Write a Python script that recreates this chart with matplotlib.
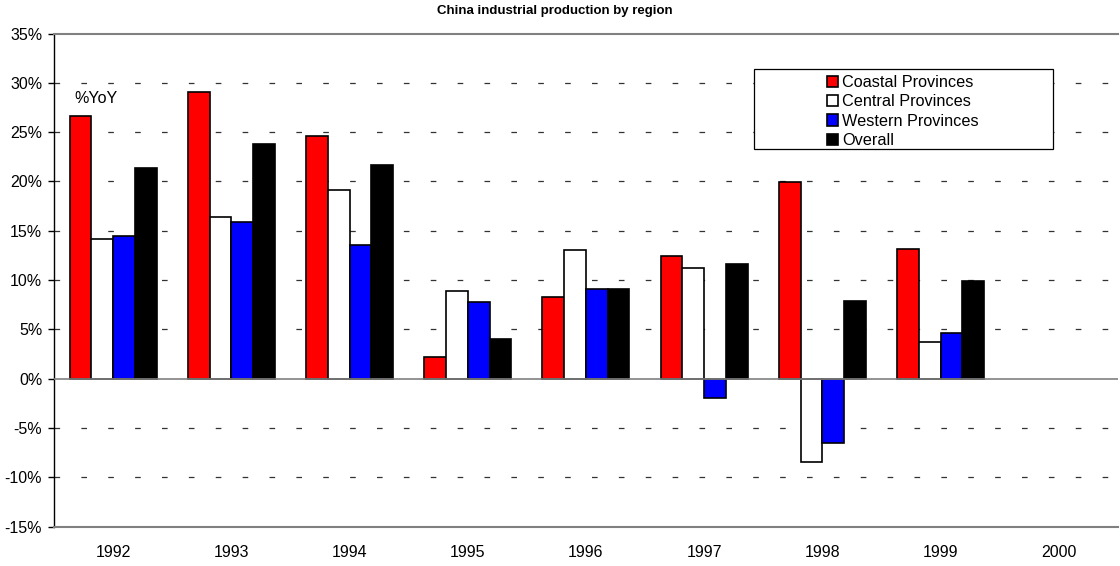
import numpy as np
import matplotlib
matplotlib.use("Agg")
import matplotlib.pyplot as plt
from matplotlib.patches import Rectangle

plt.rcParams['font.family'] = ['Liberation Sans', 'DejaVu Sans']

years = ['1992', '1993', '1994', '1995', '1996', '1997', '1998', '1999', '2000']
coastal = [26.6, 29.1, 24.6, 2.2, 8.3, 12.4, 19.9, 13.2, np.nan]
central = [14.2, 16.4, 19.1, 8.9, 13.1, 11.2, -8.4, 3.7, np.nan]
western = [14.5, 15.9, 13.6, 7.8, 9.1, -2.0, -6.5, 4.6, np.nan]
overall = [21.4, 23.8, 21.7, 4.0, 9.1, 11.6, 7.9, 9.9, np.nan]

series = [
    ('Coastal Provinces', coastal, '#ff0000'),
    ('Central Provinces', central, '#ffffff'),
    ('Western Provinces', western, '#0000ff'),
    ('Overall', overall, '#000000'),
]

fig = plt.figure(figsize=(11.2, 5.66), dpi=100)
ax = fig.add_axes([0.0482, 0.0694, 0.9500, 0.8714])

x = np.arange(len(years))
w = 0.184
for i, (name, vals, col) in enumerate(series):
    ax.bar(x + (i - 1.5) * w, vals, w, color=col, edgecolor='black',
           linewidth=1.2, label=name, zorder=3)

ax.set_xlim(-0.5, len(years) - 0.5)
ax.set_ylim(-15, 35)
ax.set_yticks(np.arange(-15, 36, 5))
ax.set_yticklabels([f'{v}%' for v in range(-15, 36, 5)])
ax.set_xticks(x)
ax.set_xticklabels(years)

# dashed gridlines, solid line at zero
for v in range(-10, 35, 5):
    if v == 0:
        continue
    ax.axhline(v, color='#333333', lw=0.9, ls=(0, (4.5, 17)), zorder=1)
ax.axhline(0, color='#808080', lw=1.2, zorder=4)

ax.spines['right'].set_visible(False)
ax.spines['top'].set_color('#808080')
ax.spines['top'].set_linewidth(1.5)
ax.spines['bottom'].set_color('#808080')
ax.spines['bottom'].set_linewidth(1.5)
ax.spines['left'].set_color('black')
ax.spines['left'].set_linewidth(1.0)

ax.tick_params(axis='x', length=0, pad=13, labelsize=11.5)
ax.tick_params(axis='y', length=4, width=1, pad=4.5, labelsize=11.5)

ax.text(-0.33, 28.4, '%YoY', fontsize=11.5, ha='left', va='center')

fig.text(0.495, 0.981, 'China industrial production by region',
         fontsize=9.5, fontweight='bold', ha='center', va='center')

# legend box
box = Rectangle((754 / 1120, 1 - 149 / 566), 299 / 1120, 80 / 566,
                transform=fig.transFigure, facecolor='white',
                edgecolor='black', lw=0.9, zorder=5)
ax.add_patch(box)
leg = ax.legend(loc='upper left', bbox_to_anchor=(827 / 1120, 1 - 75 / 566),
                bbox_transform=fig.transFigure, frameon=False,
                fontsize=11.7, handlelength=0.7, handleheight=0.7,
                handletextpad=0.25, labelspacing=0.27, borderpad=0,
                borderaxespad=0)
leg.set_zorder(6)

fig.savefig('out.png', dpi=100)
